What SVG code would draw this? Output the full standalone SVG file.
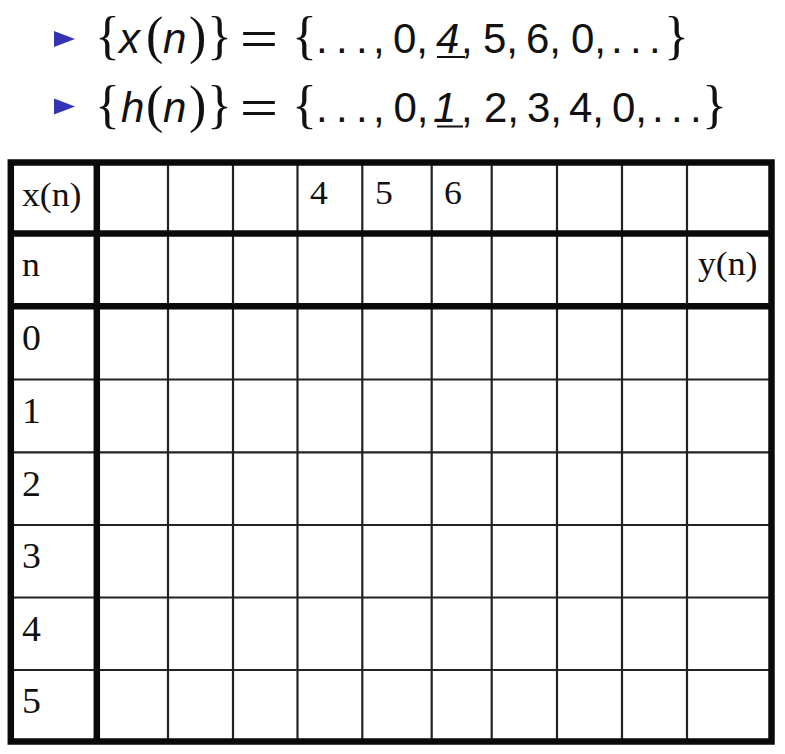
<svg xmlns="http://www.w3.org/2000/svg" width="785" height="754" viewBox="0 0 785 754">
<style>
.m{font-family:"Liberation Sans",Arial,sans-serif;font-size:42px;fill:#111}
.i{font-style:italic}
.b{font-family:"Liberation Serif","Times New Roman",serif;font-size:52px;fill:#111}
.bul{fill:#3333b3}
.thick{stroke:#0a0a0a;stroke-width:6.5;fill:none}
.thin{stroke:#222;stroke-width:2.2;fill:none}
.t{font-family:"Liberation Serif","Times New Roman",serif;fill:#111}
.h{font-size:34px}
.d{font-size:36px}
.ul{stroke:#111;stroke-width:2}
</style>
<rect width="785" height="754" fill="#fff"/>
<g id="line1">
<polygon class="bul" points="54,31 75,39 54,47"/>
<text class="b" x="95" y="53">{</text>
<text class="m i" x="119" y="53">x</text>
<text class="b" x="146" y="53">(</text>
<text class="m i" x="163" y="53">n</text>
<text class="b" x="189" y="53">)</text>
<text class="b" x="207" y="53">}</text>
<text class="m" transform="translate(240,53) scale(1.55,1)">=</text>
<text class="b" x="292" y="53">{</text>
<text class="m"><tspan x="316" y="53">.</tspan><tspan x="336" y="53">.</tspan><tspan x="356" y="53">.</tspan><tspan x="373" y="53">,</tspan><tspan x="393" y="53">0,</tspan></text>
<text class="m i" x="436" y="53">4</text>
<line class="ul" x1="437" y1="57" x2="465" y2="57"/>
<text class="m"><tspan x="461" y="53">,</tspan><tspan x="483" y="53">5,</tspan><tspan x="526" y="53">6,</tspan><tspan x="571" y="53">0,</tspan><tspan x="611" y="53">.</tspan><tspan x="630" y="53">.</tspan><tspan x="649" y="53">.</tspan></text>
<text class="b" x="664" y="53">}</text>
</g>
<g id="line2">
<polygon class="bul" points="54,98.5 75,106.5 54,114.5"/>
<text class="b" x="95" y="122">{</text>
<text class="m i" x="121" y="122">h</text>
<text class="b" x="146" y="122">(</text>
<text class="m i" x="163" y="122">n</text>
<text class="b" x="189" y="122">)</text>
<text class="b" x="207" y="122">}</text>
<text class="m" transform="translate(240,122) scale(1.55,1)">=</text>
<text class="b" x="292" y="122">{</text>
<text class="m"><tspan x="316" y="122">.</tspan><tspan x="336" y="122">.</tspan><tspan x="356" y="122">.</tspan><tspan x="373" y="122">,</tspan><tspan x="393.5" y="122">0,</tspan></text>
<text class="m i" x="433" y="122">1</text>
<line class="ul" x1="437" y1="126.5" x2="463" y2="126.5"/>
<text class="m"><tspan x="461" y="122">,</tspan><tspan x="484" y="122">2,</tspan><tspan x="527" y="122">3,</tspan><tspan x="569" y="122">4,</tspan><tspan x="612" y="122">0,</tspan><tspan x="652" y="122">.</tspan><tspan x="671" y="122">.</tspan><tspan x="690" y="122">.</tspan></text>
<text class="b" x="702" y="122">}</text>
</g>
<g id="table">
<g id="grid-thin">
<path class="thin" d="M168,162.5V741.5M233,162.5V741.5M297.5,162.5V741.5M362.3,162.5V741.5M431.7,162.5V741.5M491.7,162.5V741.5M557,162.5V741.5M622,162.5V741.5M687,162.5V741.5"/>
<path class="thin" d="M10.8,379.5H771.5M10.8,452.3H771.5M10.8,525H771.5M10.8,597.5H771.5M10.8,670H771.5"/>
</g>
<g id="grid-thick">
<path class="thick" d="M96.8,162.5V741.5M10.8,233.5H771.5M10.8,306.3H771.5"/>
<rect class="thick" x="10.8" y="162.5" width="760.7" height="579"/>
</g>
<g id="cells">
<text class="t h" transform="translate(22,206) scale(1.05,1)">x(n)</text>
<text class="t h" transform="translate(310,204) scale(1.05,1)">4</text>
<text class="t h" transform="translate(375,204) scale(1.05,1)">5</text>
<text class="t h" transform="translate(444,204) scale(1.05,1)">6</text>
<text class="t h" transform="translate(22,276) scale(1.05,1)">n</text>
<text class="t h" transform="translate(698,274.5) scale(1.05,1)">y(n)</text>
<text class="t d" transform="translate(22,350) scale(1.05,1)">0</text>
<text class="t d" transform="translate(22,423) scale(1.05,1)">1</text>
<text class="t d" transform="translate(22,496) scale(1.05,1)">2</text>
<text class="t d" transform="translate(22,568) scale(1.05,1)">3</text>
<text class="t d" transform="translate(22,641) scale(1.05,1)">4</text>
<text class="t d" transform="translate(22,713) scale(1.05,1)">5</text>
</g>
</g>
</svg>
